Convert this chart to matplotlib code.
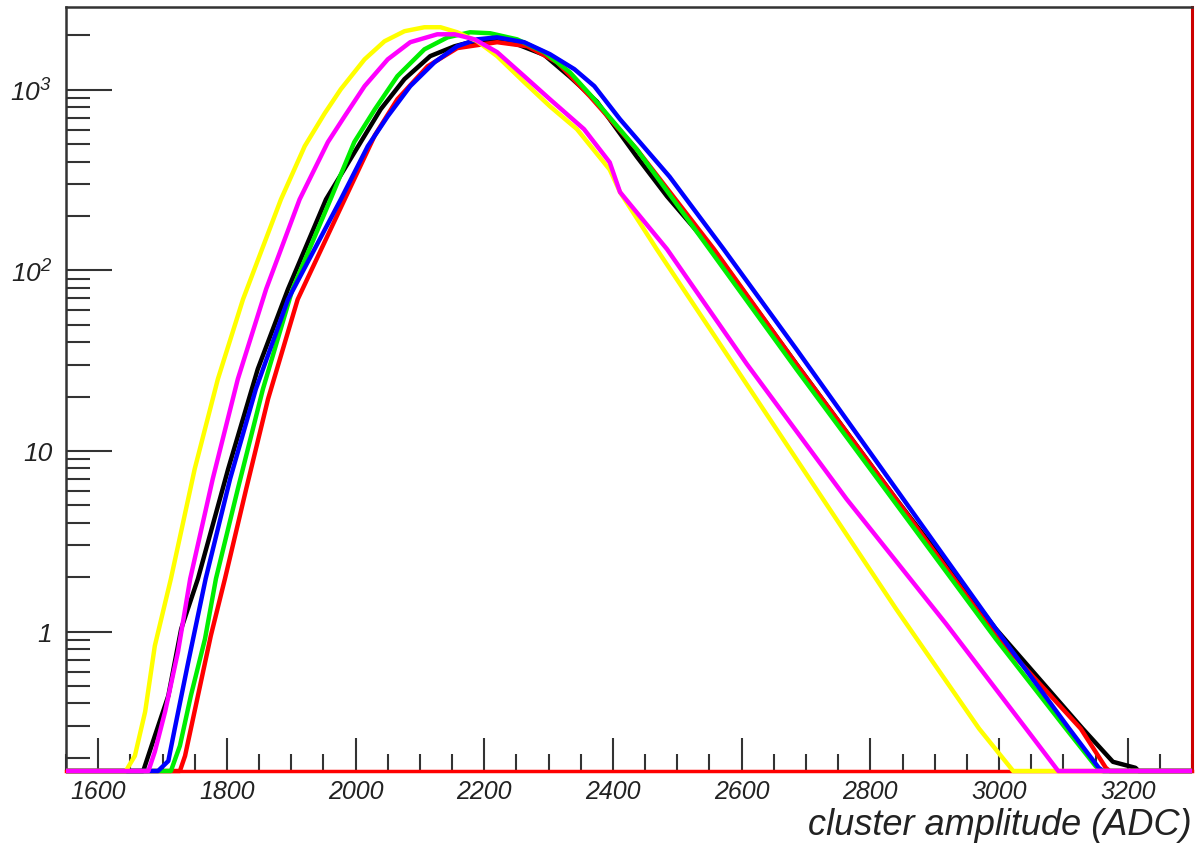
import matplotlib
matplotlib.use("Agg")
import matplotlib.pyplot as plt
import numpy as np
from matplotlib.ticker import FixedLocator, MultipleLocator, NullFormatter

plt.rcParams['font.family'] = ['Liberation Sans', 'DejaVu Sans']
plt.rcParams['mathtext.fontset'] = 'custom'
plt.rcParams['mathtext.rm'] = 'Liberation Sans:italic'
plt.rcParams['mathtext.it'] = 'Liberation Sans:italic'

# curves (x in ADC, y in counts, 0 = empty bin)
yellow_x = [1550, 1643, 1657, 1673, 1688, 1713, 1750, 1786, 1825, 1884, 1921, 1952, 1977, 2014,
            2045, 2076, 2107, 2132, 2158, 2189, 2220, 2262, 2302, 2344, 2395, 2411, 2468, 2561,
            2685, 2840, 2969, 3022, 3300]
yellow_y = [0, 0, 0.205, 0.36, 0.833, 1.96, 7.95, 25.0, 69, 247, 487, 740, 1006, 1473,
            1855, 2109, 2218, 2218, 2080, 1855, 1535, 1102, 810, 605, 361, 271, 131, 41.7,
            9.02, 1.335, 0.29, 0, 0]

magenta_x = [1550, 1678, 1688, 1704, 1724, 1743, 1778, 1817, 1861, 1913, 1957, 1983, 2014, 2050,
             2085, 2127, 2154, 2185, 2220, 2262, 2302, 2355, 2395, 2411, 2484, 2608, 2763, 2918,
             3042, 3092, 3300]
magenta_y = [0, 0, 0.216, 0.36, 0.773, 1.96, 7.0, 25.0, 78.7, 247, 513, 713, 1047, 1473,
             1833, 2027, 2027, 1901, 1615, 1189, 886, 605, 396, 271, 131, 30.3, 5.42, 1.10,
             0.29, 0, 0]

black_x = [1550, 1670, 1688, 1709, 1729, 1755, 1802, 1848, 1895, 1954, 2008, 2039, 2076, 2116,
           2154, 2178, 2220, 2251, 2293, 2333, 2375, 2437, 2484, 2561, 2685, 2840, 2995, 3130,
           3177, 3212, 3217, 3300]
black_y = [0, 0, 0.264, 0.441, 1.035, 1.96, 7.95, 28.4, 78.7, 247, 513, 779, 1145, 1535,
           1741, 1833, 1855, 1786, 1560, 1180, 860, 426, 257, 123, 30.3, 5.42, 1.035, 0.29,
           0.19, 0.176, 0, 0]

green_x = [1550, 1713, 1727, 1744, 1766, 1783, 1817, 1856, 1902, 1961, 1998, 2030, 2065, 2107,
           2143, 2178, 2209, 2251, 2293, 2333, 2371, 2437, 2550, 2685, 2840, 2995, 3104, 3150,
           3160, 3300]
green_y = [0, 0, 0.233, 0.441, 0.911, 1.96, 6.16, 22.0, 78.7, 247, 513, 779, 1189, 1674,
           1950, 2080, 2055, 1901, 1615, 1250, 886, 468, 131, 28.4, 5.09, 0.911, 0.29, 0.18,
           0, 0]

blue_x = [1550, 1693, 1709, 1719, 1740, 1767, 1805, 1845, 1895, 1977, 2019, 2050, 2085, 2123,
          2158, 2189, 2220, 2262, 2302, 2340, 2371, 2411, 2488, 2572, 2685, 2840, 2995, 3109,
          3155, 3162, 3300]
blue_y = [0, 0, 0.192, 0.29, 0.679, 1.96, 7.0, 22.0, 69, 247, 487, 713, 1047, 1422,
          1741, 1901, 1950, 1833, 1574, 1300, 1047, 686, 330, 131, 36.6, 6.16, 1.035, 0.29,
          0.176, 0, 0]

red_x = [1550, 1727, 1735, 1755, 1775, 1797, 1830, 1864, 1910, 1983, 2030, 2065, 2112, 2158,
         2220, 2267, 2313, 2364, 2437, 2557, 2685, 2840, 2995, 3127, 3166, 3172, 3300]
red_y = [0, 0, 0.205, 0.441, 0.947, 1.96, 6.16, 19.4, 69, 247, 560, 886, 1348, 1700,
         1833, 1741, 1422, 921, 468, 131, 30.3, 5.42, 0.947, 0.29, 0.176, 0, 0]

y_ticks = [1, 10, 100, 1000]
y_tick_labels = ['1', '10', '$10^{2}$', '$10^{3}$']
x_ticks = [1600, 1800, 2000, 2200, 2400, 2600, 2800, 3000, 3200]

ymin, ymax = 0.169, 2870
xmin, xmax = 1550, 3300

fig = plt.figure(figsize=(11.96, 8.45), dpi=100)
ax = fig.add_axes([0.0552, 0.0864, 0.9415, 0.9041])

curves = [(black_x, black_y, 'black'), (red_x, red_y, 'red'), (green_x, green_y, '#00ee00'),
          (blue_x, blue_y, 'blue'), (yellow_x, yellow_y, '#ffff00'), (magenta_x, magenta_y, '#ff00ff')]
for xs, ys, col in curves:
    ax.plot(xs, np.clip(ys, ymin, None), color=col, lw=3.2, clip_on=False, zorder=3,
            solid_joinstyle='round', solid_capstyle='butt')

ax.set_yscale('log')
ax.set_xlim(xmin, xmax)
ax.set_ylim(ymin, ymax)

ax.yaxis.set_major_locator(FixedLocator(y_ticks))
ax.set_yticklabels(y_tick_labels)
ax.yaxis.set_minor_formatter(NullFormatter())
ax.set_xticks(x_ticks)
ax.set_xticklabels([str(v) for v in x_ticks])
ax.xaxis.set_minor_locator(MultipleLocator(50))

ax.tick_params(axis='both', which='both', direction='in', color='#333333', width=1.5,
               top=False, right=False)
ax.tick_params(axis='x', labelsize=18)
ax.tick_params(axis='y', labelsize=19)
ax.tick_params(axis='y', which='major', length=33, pad=10)
ax.tick_params(axis='y', which='minor', length=17)
ax.tick_params(axis='x', which='major', length=24, pad=6)
ax.tick_params(axis='x', which='minor', length=12)
for lbl in ax.get_xticklabels() + ax.get_yticklabels():
    lbl.set_style('italic')
    lbl.set_color('#222222')

for side in ['top', 'left']:
    ax.spines[side].set_color('#333333')
    ax.spines[side].set_linewidth(1.8)
ax.spines['bottom'].set_color('red')
ax.spines['bottom'].set_linewidth(2.5)
ax.spines['right'].set_color('#cc0000')
ax.spines['right'].set_linewidth(2.2)

ax.set_xlabel('cluster amplitude (ADC)', fontsize=26, style='italic', color='#222222')
ax.xaxis.set_label_coords(1.0, -0.047)
ax.xaxis.label.set_horizontalalignment('right')
ax.xaxis.label.set_verticalalignment('top')

fig.savefig('out.png', dpi=100)
